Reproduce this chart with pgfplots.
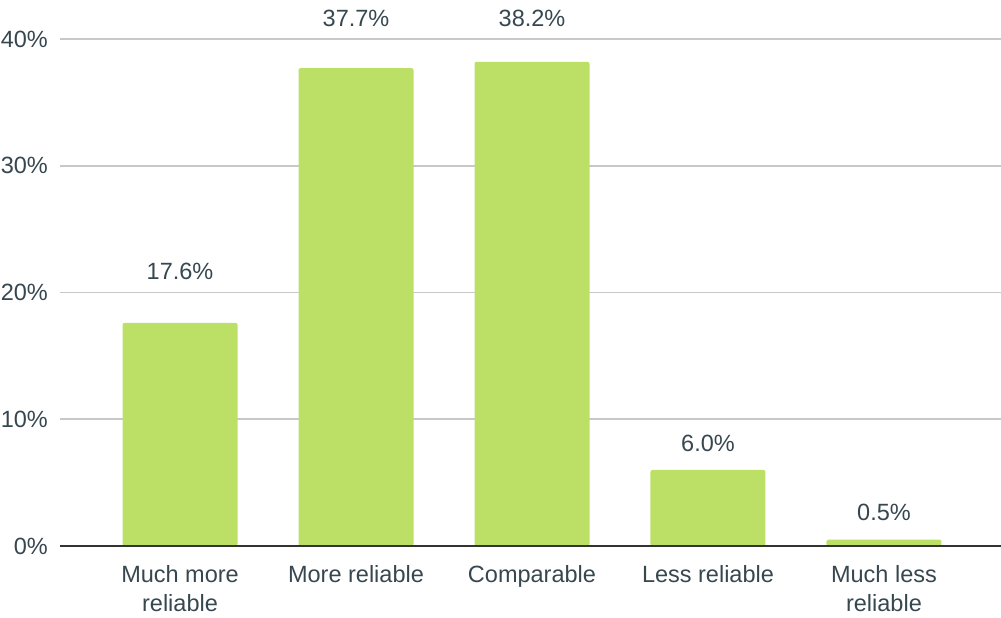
\documentclass[border=0pt]{standalone}
\usepackage{fontspec}
\setmainfont{Liberation Sans}
\usepackage{pgfplots}
\pgfplotsset{compat=1.18}
\definecolor{barcol}{HTML}{BBE065}
\definecolor{txtcol}{HTML}{37474F}
\definecolor{gridcol}{HTML}{C8C8C8}
\begin{document}
\begin{tikzpicture}
\begin{axis}[
  name=ax,
  at={(0,0)}, anchor=south west,
  scale only axis,
  width=941pt, height=507pt,
  xmin=-0.682, xmax=4.665,
  ymin=0, ymax=40,
  axis line style={draw=none},
  ytick={0,10,20,30,40},
  yticklabels={0\%,10\%,20\%,30\%,40\%},
  xtick={0,1,2,3,4},
  xticklabels={{Much more\\reliable},{More reliable},{Comparable},{Less reliable},{Much less\\reliable}},
  major tick length=0pt,
  ymajorgrids,
  grid style={gridcol, line width=1.6pt},
  tick label style={font=\fontsize{23.5}{29}\selectfont, text=txtcol},
  yticklabel style={anchor=east, xshift=-12pt, inner sep=0pt},
  xticklabel style={align=center, anchor=north, inner sep=0pt, yshift=-19pt},
  clip=false,
]
\addplot[ybar, bar width=115pt, fill=barcol, draw=none, rounded corners=2pt] coordinates {(0,17.6) (1,37.7) (2,38.2) (3,6.0) (4,0.5)};
\addplot[draw=none, mark=none, nodes near coords, point meta=explicit symbolic,
  every node near coord/.style={anchor=center, font=\fontsize{23.5}{29}\selectfont, text=txtcol, inner sep=0pt}]
  coordinates {(0,21.7)[17.6\%] (1,41.66)[37.7\%] (2,41.66)[38.2\%] (3,8.13)[6.0\%] (4,2.68)[0.5\%]};
\draw[color=black!80, line width=1.3pt] (axis cs:-0.682,0) -- (axis cs:4.665,0);
\end{axis}
\pgfresetboundingbox
\path[use as bounding box] (-60pt,-72pt) rectangle (941pt,546pt);
\end{tikzpicture}
\end{document}
